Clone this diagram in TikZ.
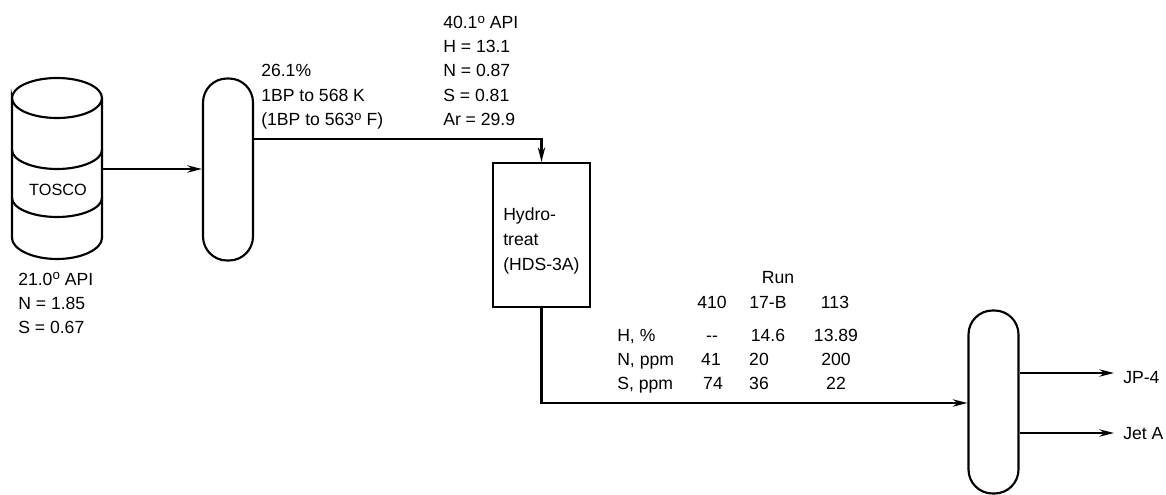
\documentclass[tikz,border=0pt]{standalone}
\usepackage{fontspec}
\setmainfont{Liberation Sans}
\usetikzlibrary{arrows.meta}
\newcommand{\degsup}{\raisebox{0.55ex}{\fontsize{10}{10}\selectfont o}}
\tikzset{
  x=0.75pt,y=-0.75pt,
  line/.style={draw=black,line width=1.6pt},
  flow/.style={line,-{Stealth[length=11pt,width=5.5pt]}},
  column/.style={draw=black,line width=1.6pt,rounded corners=18pt,minimum width=37.5pt,inner sep=0pt},
  unit/.style={draw=black,line width=1.6pt,minimum width=72.75pt,minimum height=108pt,inner sep=0pt},
  txt/.style={anchor=base west,inner sep=0pt,font=\fontsize{13.2}{15}\selectfont},
  ctr/.style={anchor=base,inner sep=0pt,font=\fontsize{13.2}{15}\selectfont},
}
\begin{document}
\begin{tikzpicture}
\useasboundingbox (0,0) rectangle (1166,495);
% drum
\draw[line] (12,98) .. controls (12,87) and (32,78) .. (57,78) .. controls (82,78) and (102,87) .. (102,98)
   .. controls (102,109) and (82,118) .. (57,118) .. controls (32,118) and (12,109) .. (12,98) -- (12,238)
   .. controls (12,249) and (32,259) .. (57,259) .. controls (82,259) and (102,249) .. (102,238) -- (102,98);
\draw[line] (12,150) .. controls (12,160) and (32,169) .. (57,169) .. controls (82,169) and (102,160) .. (102,150);
\draw[line] (12,198) .. controls (12,208) and (32,217) .. (57,217) .. controls (82,217) and (102,208) .. (102,198);
\coordinate (drumout) at (103,169);
\node[ctr,font=\fontsize{12.2}{15}\selectfont] (tosco) at (58,196) {TOSCO};
% vessels
\node[column,minimum height=136.5pt] (col1) at (228,169.5) {};
\node[unit] (hydro) at (541.5,235) {};
\node[column,minimum height=137.25pt] (col2) at (993.5,402) {};
% connectors
\coordinate (col1out) at (col1.east |- 0,139);
\coordinate (elbow1) at (hydro.north |- col1out);
\draw[flow] (drumout) -- (col1.west |- drumout);
\draw[flow] (col1out) -- (elbow1) -- (hydro.north);
\coordinate (col2in) at (col2.west |- 0,403);
\coordinate (elbow2) at (hydro.south |- col2in);
\draw[flow] (hydro.south) -- (elbow2) -- (col2in);
\coordinate (jp) at (1114,373);
\coordinate (jet) at (1114,433);
\draw[flow] (col2.east |- jp) -- (jp);
\draw[flow] (col2.east |- jet) -- (jet);
% labels
\node[txt] (a1) at (18,285) {21.0\degsup\ API};
\node[txt] (a2) at (18,309) {N = 1.85};
\node[txt] (a3) at (18,333) {S = 0.67};
\node[txt] (b1) at (261,77) {26.1\%};
\node[txt] (b2) at (261,102) {1BP to 568 K};
\node[txt] (b3) at (261,126) {(1BP to 563\degsup\ F)};
\node[txt] (c1) at (443,29) {40.1\degsup\ API};
\node[txt] (c2) at (443,53) {H = 13.1};
\node[txt] (c3) at (443,77) {N = 0.87};
\node[txt] (c4) at (443,102) {S = 0.81};
\node[txt] (c5) at (443,126) {Ar = 29.9};
\node[txt] (h1) at (503,221) {Hydro-};
\node[txt] (h2) at (503,246) {treat};
\node[txt] (h3) at (503,270) {(HDS-3A)};
\node[ctr] (run) at (778,283) {Run};
\node[ctr] (t1) at (712,308) {410};
\node[ctr] (t2) at (768,308) {17-B};
\node[ctr] (t3) at (835,308) {113};
\node[txt] (r1) at (617,341) {H, \%};
\node[ctr] (r11) at (712,341) {{-}{-}};
\node[ctr] (r12) at (768,341) {14.6};
\node[ctr] (r13) at (836,341) {13.89};
\node[txt] (r2) at (617,365) {N, ppm};
\node[ctr] (r21) at (711,365) {41};
\node[ctr] (r22) at (759,365) {20};
\node[ctr] (r23) at (836,365) {200};
\node[txt] (r3) at (617,389) {S, ppm};
\node[ctr] (r31) at (713,389) {74};
\node[ctr] (r32) at (759,389) {36};
\node[ctr] (r33) at (836,389) {22};
\node[txt] (o1) at (1123,383) {JP-4};
\node[txt] (o2) at (1123,439) {Jet A};
\end{tikzpicture}
\end{document}
